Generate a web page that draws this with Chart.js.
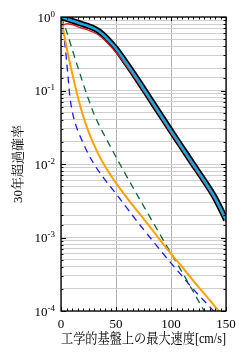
<!DOCTYPE html>
<html>
<head>
<meta charset="utf-8">
<script src="https://cdn.jsdelivr.net/npm/chart.js@4/dist/chart.umd.min.js"></script>
<style>
  html, body { margin: 0; padding: 0; background: #fff; }
  #wrap { width: 247px; height: 357px; }
</style>
</head>
<body>
<div id="wrap"><canvas id="myChart" width="247" height="357"></canvas></div>
<script>
// 最大速度 [cm/s]
var speed = [0, 2, 4, 6, 8, 10, 13, 16, 20, 25, 30, 35, 40, 45, 50, 60, 70, 80, 90, 100, 110, 120, 130, 140, 150];

// 30年超過確率
var probTotal = [1.0, 0.977, 0.955, 0.933, 0.912, 0.89, 0.86, 0.83, 0.794, 0.75, 0.70, 0.63, 0.543, 0.452, 0.372, 0.229, 0.138, 0.0813, 0.0479, 0.0282, 0.0168, 0.01, 0.006, 0.00347, 0.00174];
var probRed = [0.78, 0.78, 0.80, 0.81, 0.80, 0.785, 0.76, 0.73, 0.70, 0.66, 0.615, 0.555, 0.48, 0.40, 0.33, 0.212, 0.129, 0.0765, 0.045, 0.0265, 0.0158, 0.0094, 0.00565, 0.00326, 0.00164];
var probGreen = [1.0, 0.85, 0.71, 0.575, 0.462, 0.37, 0.266, 0.193, 0.126, 0.076, 0.048, 0.033, 0.0237, 0.0172, 0.01245, 0.00668, 0.00363, 0.002, 0.0011, 0.00061, 0.00034, 0.000186, 0.000101, 0.000055, 0.00003];
var probBlue = [1.0, 0.63, 0.37, 0.178, 0.085, 0.054, 0.0355, 0.0266, 0.0195, 0.0135, 0.01, 0.0077, 0.0061, 0.0049, 0.00394, 0.00251, 0.0016, 0.00104, 0.00068, 0.000447, 0.0003, 0.0002, 0.000138, 0.0000955, 0.000066];
var probOrange = [1.0, 0.676, 0.47, 0.33, 0.24, 0.176, 0.1135, 0.075, 0.0457, 0.0275, 0.0182, 0.0127, 0.0093, 0.0071, 0.0055, 0.00347, 0.00224, 0.00145, 0.00093, 0.0006, 0.0004, 0.00026, 0.000174, 0.000115, 0.000076];

var xTicks = [0, 50, 100, 150];
var yExponents = [0, -1, -2, -3, -4];

var FONT = "'Liberation Serif', 'Noto Serif CJK JP', 'Noto Sans CJK JP', serif";

function pts(arr) {
    return speed.map(function (s, i) { return { x: s, y: arr[i] }; });
}

function isDecade(v) {
    var e = Math.log10(v);
    return Math.abs(e - Math.round(e)) < 1e-6;
}

// 枠, 内向きの目盛, 10のべき乗ラベル
var frame = {
    id: 'frame',
    afterDatasetsDraw: function (chart) {
        var a = chart.chartArea, c = chart.ctx;
        var xs = chart.scales.x, ys = chart.scales.y;
        c.save();
        c.strokeStyle = '#000';
        c.lineWidth = 1;
        c.beginPath();
        for (var v = 0; v <= 150; v += 5) {
            var px = Math.round(xs.getPixelForValue(v)) + 0.5;
            var len = (v % 50 === 0) ? 4 : 2.5;
            c.moveTo(px, a.bottom); c.lineTo(px, a.bottom - len);
            c.moveTo(px, a.top); c.lineTo(px, a.top + len);
        }
        ys.ticks.forEach(function (t) {
            var py = Math.round(ys.getPixelForValue(t.value)) + 0.5;
            var len = isDecade(t.value) ? 5 : 2.5;
            c.moveTo(a.left, py); c.lineTo(a.left + len, py);
            c.moveTo(a.right, py); c.lineTo(a.right - len, py);
        });
        c.stroke();
        c.lineWidth = 1.3;
        c.strokeRect(a.left, a.top, a.right - a.left, a.bottom - a.top);

        c.fillStyle = '#000';
        c.textAlign = 'left';
        c.textBaseline = 'alphabetic';
        yExponents.forEach(function (e) {
            var py = ys.getPixelForValue(Math.pow(10, e));
            var sup = e === 0 ? '0' : '-' + String(-e);
            c.font = '9px ' + FONT;
            var sw = c.measureText(sup).width;
            c.font = '13px ' + FONT;
            var bw = c.measureText('10').width;
            var right = a.left - 6;
            c.fillText('10', right - sw - bw, py + 4.5);
            c.font = '9px ' + FONT;
            c.fillText(sup, right - sw, py - 0.5);
        });
        c.restore();
    }
};

var ctx = document.getElementById('myChart');

var myChart = new Chart(ctx, {
    type: 'line',
    data: {
        datasets: [
            { label: 'cyan', data: pts(probTotal), borderColor: '#1aa6de', borderWidth: 2.6, order: 0 },
            { label: 'red', data: pts(probRed), borderColor: '#e0141e', borderWidth: 1.3, order: 1 },
            { label: 'black', data: pts(probTotal), borderColor: '#000000', borderWidth: 6, order: 2 },
            { label: 'orange', data: pts(probOrange), borderColor: '#ffa200', borderWidth: 2, order: 3 },
            { label: 'green', data: pts(probGreen), borderColor: '#13663a', borderWidth: 1.3, borderDash: [7, 5], order: 4 },
            { label: 'blue', data: pts(probBlue), borderColor: '#1a1aff', borderWidth: 1.3, borderDash: [7, 5], order: 5 }
        ]
    },
    options: {
        responsive: false,
        animation: false,
        devicePixelRatio: 1,
        elements: {
            point: { radius: 0 },
            line: { cubicInterpolationMode: 'monotone', fill: false }
        },
        layout: { padding: { top: 17, right: 21, left: 0, bottom: 0 } },
        plugins: { legend: { display: false }, tooltip: { enabled: false } },
        scales: {
            x: {
                type: 'linear',
                min: 0, max: 150,
                afterFit: function (s) { s.height = 46; },
                afterBuildTicks: function (s) { s.ticks = xTicks.map(function (v) { return { value: v }; }); },
                grid: { color: '#b4b4b4', lineWidth: 1, drawTicks: false },
                border: { display: false },
                ticks: { color: '#000', padding: 6, maxRotation: 0, font: { family: FONT, size: 13 } },
                title: {
                    display: true, text: '工学的基盤上の最大速度[cm/s]', color: '#000',
                    font: { family: FONT, size: 14 }, padding: { top: 0, bottom: 9 }
                }
            },
            y: {
                type: 'logarithmic',
                min: 1e-4, max: 1,
                afterFit: function (s) { s.width = 61; },
                grid: { color: '#cfcfcf', lineWidth: 1, drawTicks: false },
                border: { display: false },
                ticks: {
                    color: '#000', padding: 5, autoSkip: false,
                    font: { family: FONT, size: 13 },
                    callback: function () { return ''; }
                },
                title: {
                    display: true, text: '30年超過確率', color: '#000',
                    font: { family: FONT, size: 13 }, padding: { top: 11, bottom: 0 }
                }
            }
        }
    },
    plugins: [frame]
});
</script>
</body>
</html>
